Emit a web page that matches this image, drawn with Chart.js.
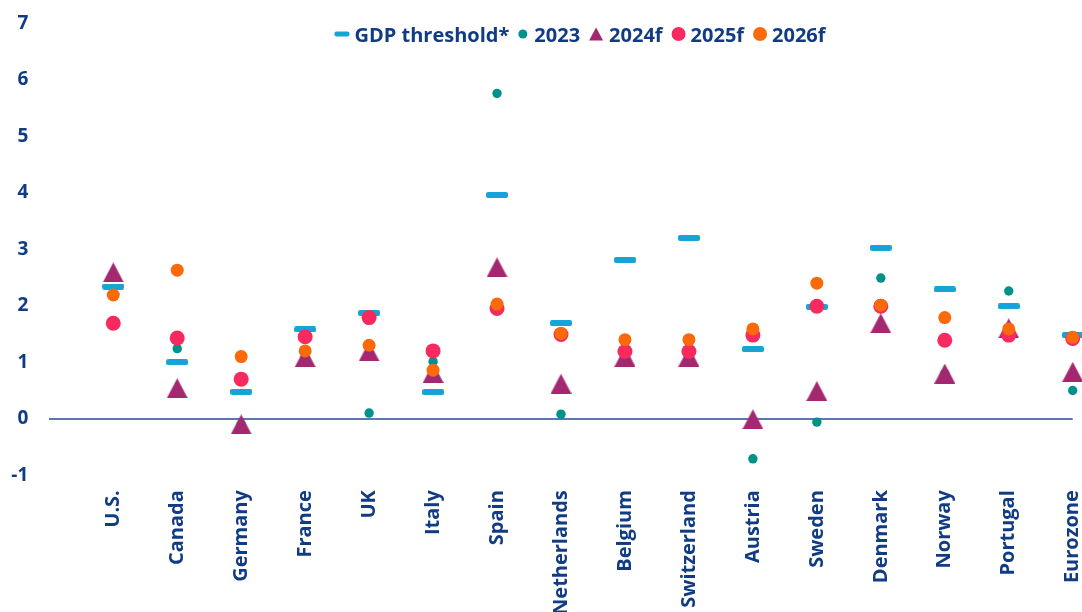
<!DOCTYPE html>
<html>
<head>
<meta charset="utf-8">
<script src="https://cdn.jsdelivr.net/npm/chart.js@4.4.1/dist/chart.umd.min.js"></script>
<style>
  html, body { margin: 0; padding: 0; overflow: hidden; background: #ffffff; }
  #wrap { position: absolute; left: 0; top: 0; width: 1120px; height: 612px; }
</style>
</head>
<body>
<div id="wrap"><canvas id="c" width="1120" height="612"></canvas></div>
<script>
// ---------- data ----------
const categories = ['U.S.', 'Canada', 'Germany', 'France', 'UK', 'Italy', 'Spain', 'Netherlands',
  'Belgium', 'Switzerland', 'Austria', 'Sweden', 'Denmark', 'Norway', 'Portugal', 'Eurozone'];
const seriesNames = ['GDP threshold*', '2023', '2024f', '2025f', '2026f'];
const gdpThreshold = [2.34, 1.00, 0.48, 1.58, 1.87, 0.47, 3.96, 1.69, 2.81, 3.20, 1.23, 1.98, 3.03, 2.29, 1.99, 1.48];
const growth2023  = [2.50, 1.24, -0.10, 1.10, 0.10, 1.01, 5.76, 0.08, 1.40, 1.20, -0.71, -0.06, 2.49, 0.80, 2.26, 0.50];
const growth2024f = [2.59, 0.54, -0.10, 1.09, 1.19, 0.81, 2.68, 0.62, 1.10, 1.10, -0.01, 0.49, 1.69, 0.80, 1.60, 0.83];
const growth2025f = [1.69, 1.43, 0.70, 1.45, 1.79, 1.20, 1.95, 1.49, 1.19, 1.19, 1.48, 1.99, 1.99, 1.39, 1.48, 1.42];
const growth2026f = [2.19, 2.63, 1.10, 1.20, 1.30, 0.86, 2.03, 1.51, 1.40, 1.40, 1.59, 2.40, 2.01, 1.79, 1.59, 1.44];
const yTicks = [-1, 0, 1, 2, 3, 4, 5, 6, 7];

// ---------- styles ----------
const NAVY = '#113c84';
const CYAN = '#17a3d6';
const TEAL = '#00918c';
const PURPLE = '#a3286f';
const PINK = '#f72a5f';
const ORANGE = '#fa6a0a';
const ZERO = '#5a78ac';
const FONT = '"Open Sans", "DejaVu Sans", sans-serif';

function roundRectPath(g, x, y, w, h, r) {
  g.beginPath();
  g.moveTo(x + r, y);
  g.lineTo(x + w - r, y);
  g.quadraticCurveTo(x + w, y, x + w, y + r);
  g.lineTo(x + w, y + h - r);
  g.quadraticCurveTo(x + w, y + h, x + w - r, y + h);
  g.lineTo(x + r, y + h);
  g.quadraticCurveTo(x, y + h, x, y + h - r);
  g.lineTo(x, y + r);
  g.quadraticCurveTo(x, y, x + r, y);
  g.closePath();
}
function makeDash(w, h, color) {
  const c = document.createElement('canvas');
  c.width = w; c.height = h;
  const g = c.getContext('2d');
  g.fillStyle = color;
  roundRectPath(g, 0, 0, w, h, 2);
  g.fill();
  return c;
}
function makeTriangle(w, h, color) {
  const c = document.createElement('canvas');
  c.width = w; c.height = h;
  const g = c.getContext('2d');
  g.fillStyle = color;
  g.beginPath();
  g.moveTo(w / 2, 0);
  g.lineTo(w, h);
  g.lineTo(0, h);
  g.closePath();
  g.fill();
  return c;
}
const dashImg = makeDash(22, 6, CYAN);
const triImg = makeTriangle(21, 20, PURPLE);

const pad = arr => [null, ...arr];

function pointSet(label, data, color, style, radius, order, legend) {
  return {
    label, data: pad(data), showLine: false,
    pointStyle: style, pointRadius: radius, pointHoverRadius: radius,
    backgroundColor: color, borderColor: color, pointBorderWidth: 0, borderWidth: 0,
    order, clip: false, legendMarker: legend
  };
}

const datasets = [
  pointSet(seriesNames[0], gdpThreshold, CYAN, dashImg, 11, 5, {type: 'dash', w: 15, h: 5, gap: 5}),
  pointSet(seriesNames[1], growth2023, TEAL, 'circle', 4.7, 4, {type: 'circle', w: 9, gap: 7}),
  pointSet(seriesNames[2], growth2024f, PURPLE, triImg, 10.5, 3, {type: 'tri', w: 14, h: 13, gap: 6}),
  pointSet(seriesNames[3], growth2025f, PINK, 'circle', 7.5, 2, {type: 'circle', w: 14, gap: 5}),
  pointSet(seriesNames[4], growth2026f, ORANGE, 'circle', 6.5, 1, {type: 'circle', w: 14, gap: 5}),
];

// ---------- custom legend drawn inside the plot ----------
const insideLegend = {
  id: 'insideLegend',
  afterDraw(chart) {
    const ctx = chart.ctx;
    ctx.save();
    ctx.font = 'bold 20px ' + FONT;
    ctx.textBaseline = 'alphabetic';
    const gapItem = 9;
    const items = chart.data.datasets.map(ds => ({
      label: ds.label, m: ds.legendMarker, color: ds.backgroundColor,
      tw: ctx.measureText(ds.label).width
    }));
    let total = 0;
    items.forEach((it, i) => { total += it.m.w + it.m.gap + it.tw + (i ? gapItem : 0); });
    const centerX = chart.chartArea.left + (chart.chartArea.right - chart.chartArea.left) / 2 + 19;
    const cy = chart.chartArea.top + 10.7;
    let x = centerX - total / 2;
    items.forEach(it => {
      ctx.fillStyle = it.color;
      if (it.m.type === 'dash') {
        roundRectPath(ctx, x, cy - it.m.h / 2, it.m.w, it.m.h, 2);
        ctx.fill();
      } else if (it.m.type === 'circle') {
        ctx.beginPath();
        ctx.arc(x + it.m.w / 2, cy, it.m.w / 2, 0, Math.PI * 2);
        ctx.fill();
      } else if (it.m.type === 'tri') {
        ctx.beginPath();
        ctx.moveTo(x + it.m.w / 2, cy - it.m.h / 2);
        ctx.lineTo(x + it.m.w, cy + it.m.h / 2);
        ctx.lineTo(x, cy + it.m.h / 2);
        ctx.closePath();
        ctx.fill();
      }
      x += it.m.w + it.m.gap;
      ctx.fillStyle = NAVY;
      ctx.fillText(it.label, x, cy + 7.5);
      x += it.tw + gapItem;
    });
    ctx.restore();
  }
};

new Chart(document.getElementById('c'), {
  type: 'line',
  data: { labels: ['', ...categories], datasets },
  plugins: [insideLegend],
  options: {
    responsive: false,
    animation: false,
    devicePixelRatio: 1,
    layout: { padding: { top: 23.3, right: 1120 - 1072.7, bottom: 0, left: 0 } },
    plugins: { legend: { display: false }, tooltip: { enabled: false } },
    scales: {
      x: {
        type: 'category',
        offset: false,
        grid: { display: false, drawTicks: false },
        border: { display: false },
        ticks: { autoSkip: false, minRotation: 90, maxRotation: 90, padding: 15, color: NAVY,
                 font: { family: FONT, size: 20, weight: 'bold' } },
        afterFit(s) { s.height = 612 - 475.2; }
      },
      y: {
        min: yTicks[0],
        max: yTicks[yTicks.length - 1],
        afterBuildTicks(s) { s.ticks = yTicks.map(v => ({ value: v })); },
        ticks: { padding: 5, color: NAVY, font: { family: FONT, size: 19, weight: 'bold' } },
        grid: {
          drawTicks: true,
          tickLength: 16,
          tickColor: 'rgba(0,0,0,0)',
          lineWidth: 2,
          color: c => (c.tick && c.tick.value === 0) ? ZERO : 'rgba(0,0,0,0)'
        },
        border: { display: false },
        afterFit(s) { s.width = 49.3; }
      }
    }
  }
});
</script>
</body>
</html>
